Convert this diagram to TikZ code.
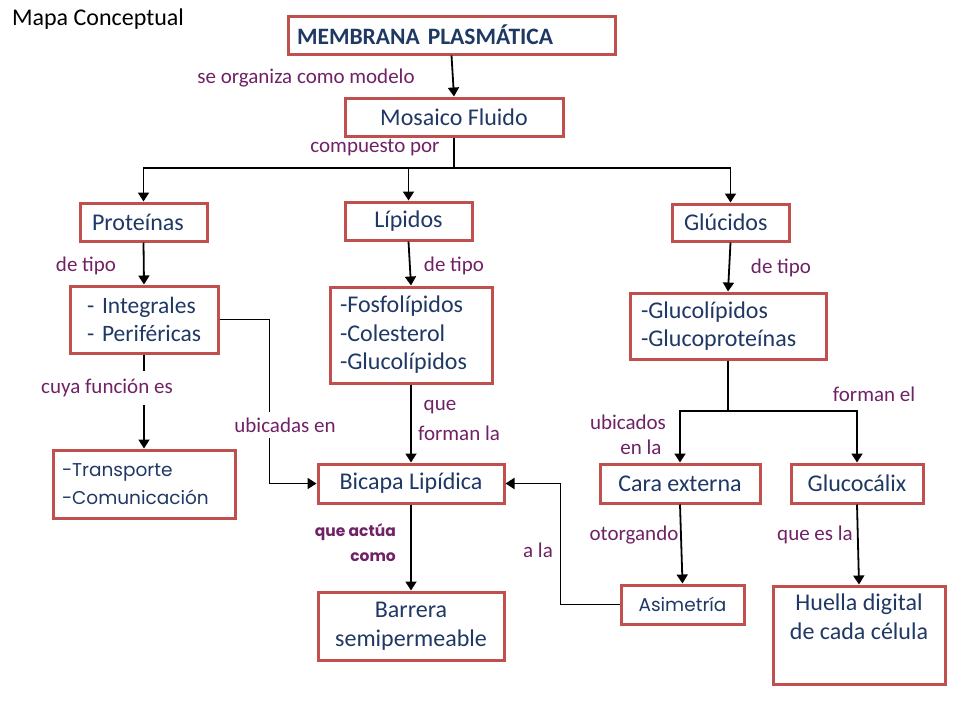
\documentclass[tikz,border=0pt]{standalone}
\usepackage{fontspec}
\setmainfont{Carlito}
\newfontfamily\geo{Poppins}
\usetikzlibrary{arrows.meta}
\definecolor{boxred}{RGB}{192,80,77}
\definecolor{txtblue}{RGB}{31,56,100}
\definecolor{lblpurple}{RGB}{112,34,102}
\begin{document}
\begin{tikzpicture}[x=1pt,y=-1pt,
  box/.style={draw=boxred, line width=3pt, text=txtblue, inner ysep=0pt,
    font=\fontsize{24}{28.5}\selectfont},
  lbox/.style={box, align=left},
  cbox/.style={box, align=center, inner xsep=0pt},
  arr/.style={draw=black, line width=1.8pt, -{Triangle[length=9pt,width=11pt]}},
  ln/.style={draw=black, line width=1.8pt},
  lbl/.style={text=lblpurple, font=\fontsize{21}{25}\selectfont, inner sep=1pt},
  wlbl/.style={lbl, fill=white, inner sep=3pt}]
\useasboundingbox[fill=white] (0,0) rectangle (960,720);

% boxes
\node[lbox, font=\fontsize{23.5}{28}\selectfont\bfseries, minimum height=38pt, text width=309pt, inner xsep=9pt] (mem) at (451.5,35) {MEMBRANA PLASMÁTICA};
\node[cbox, minimum width=218pt, minimum height=38pt] (mos) at (454,117) {Mosaico Fluido};
\node[lbox, minimum height=38pt, text width=103pt, inner xsep=12pt] (prot) at (143.5,222) {Proteínas};
\node[cbox, minimum width=127pt, minimum height=38pt] (lip) at (408.5,221) {Lípidos};
\node[lbox, minimum height=37pt, text width=93pt, inner xsep=12pt] (glu) at (730.5,222.5) {Glúcidos};
\node[lbox, font=\fontsize{23.5}{28.5}\selectfont, minimum height=67pt, text width=128pt, inner xsep=10pt] (integ) at (144,319.5) {\hspace*{7pt}\mbox{- Integrales}\\\hspace*{7pt}\mbox{- Periféricas}};
\node[lbox, minimum height=96pt, text width=142pt, inner xsep=10pt] (fosfo) at (411,335) {-Fosfolípidos\\-Colesterol\\-Glucolípidos};
\node[lbox, minimum height=66pt, text width=174pt, inner xsep=11pt] (gluco) at (728,326) {-Glucolípidos\\-Glucoproteínas};
\node[lbox, font=\geo\fontsize{18.5}{28}\selectfont, minimum height=68pt, text width=164pt, inner xsep=9pt] (trans) at (144,484) {-Transporte\\-Comunicación};
\node[cbox, minimum width=186pt, minimum height=39pt] (bicapa) at (411,483.5) {Bicapa Lipídica};
\node[cbox, minimum width=186pt, minimum height=68pt] (barrera) at (411,626) {Barrera\\semipermeable};
\node[cbox, minimum width=160pt, minimum height=39pt] (cara) at (680,483.5) {Cara externa};
\node[cbox, minimum width=132pt, minimum height=39pt] (glucoc) at (857,483.5) {Glucocálix};
\node[cbox, font=\geo\fontsize{18.5}{24}\selectfont, minimum width=123pt, minimum height=39pt] (asim) at (682.5,604.5) {Asimetría};
\node[cbox, minimum width=172pt, minimum height=98pt] (huella) at (859,635) {Huella digital\\de cada célula\\\strut};

% junction coordinates
\coordinate (j1) at (454,168);
\coordinate (j2) at (728,411);

% connectors
\draw[arr] (mem.south) -- (mos.north);
\draw[ln] (mos.south) -- (j1);
\draw[arr] (j1) -| (prot.north);
\draw[arr] (j1) -| (lip.north);
\draw[arr] (j1) -| (glu.north);
\draw[arr] (prot.south) -- (integ.north);
\draw[arr] (lip.south) -- (fosfo.north);
\draw[arr] (glu.south) -- (gluco.north);
\draw[arr] (integ.south) -- (trans.north);
\draw[arr] (integ.east) -- ++(50,0) |- (bicapa.west);
\draw[arr] (fosfo.south) -- (bicapa.north);
\draw[arr] (bicapa.south) -- (barrera.north);
\draw[arr] (asim.west) -- ++(-59,0) |- (bicapa.east);
\draw[ln] (gluco.south) -- (j2);
\draw[arr] (j2) -| (cara.north);
\draw[arr] (j2) -| (glucoc.north);
\draw[arr] (cara.south) -- (asim.north);
\draw[arr] (glucoc.south) -- (huella.north);

% labels
\node[font=\fontsize{24}{28}\selectfont, inner sep=0pt] (title) at (98,19) {Mapa Conceptual};
\node[lbl] (l1) at (306,78) {se organiza como modelo};
\node[lbl] (l2) at (375,148) {compuesto por};
\node[lbl] (l3) at (86,266) {de tipo};
\node[lbl] (l4) at (454,266) {de tipo};
\node[lbl] (l5) at (781,268) {de tipo};
\node[wlbl, inner ysep=8pt] (l6) at (107,388) {cuya función es};
\node[wlbl, inner ysep=6pt] (l7) at (285,425) {ubicadas en};
\node[lbl] (l8) at (440,407) {que};
\node[lbl] (l9) at (459,433) {forman la};
\node[lbl, anchor=east, align=right, font=\geo\bfseries\fontsize{15.5}{25}\selectfont] (l10) at (397,543) {que actúa\\como};
\node[lbl] (l11) at (538,550) {a la};
\node[lbl] (l12) at (628,422) {ubicados};
\node[lbl] (l13) at (641,447) {en la};
\node[lbl] (l14) at (874,394) {forman el};
\node[lbl] (l15) at (634,535) {otorgando};
\node[lbl] (l16) at (815,535) {que es la};
\end{tikzpicture}
\end{document}
